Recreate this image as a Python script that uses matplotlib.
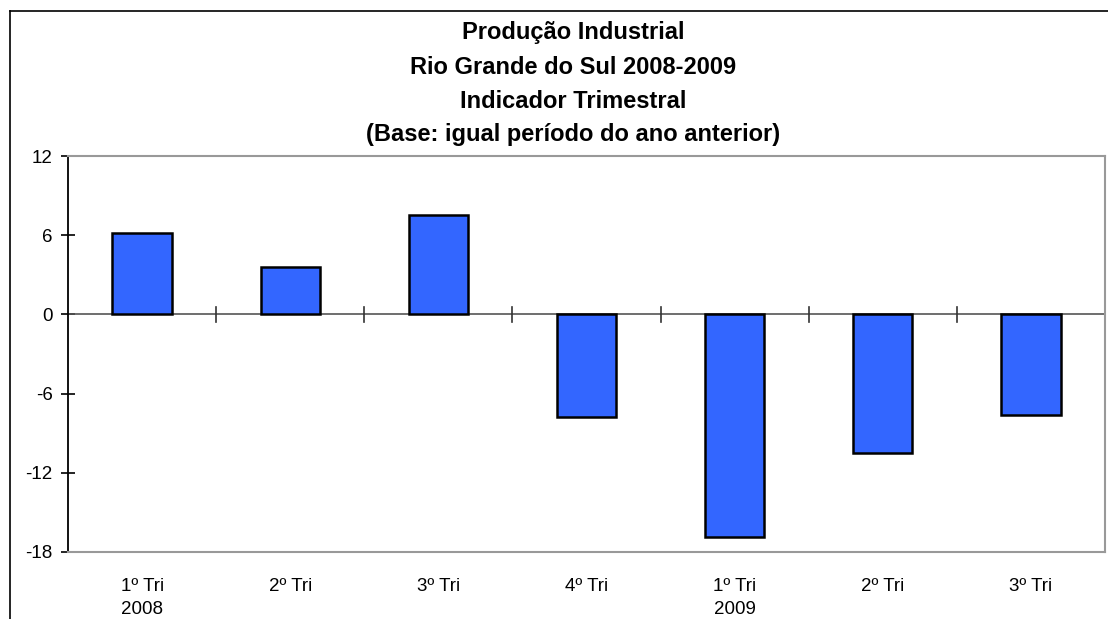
import matplotlib
matplotlib.use("Agg")
import matplotlib.pyplot as plt
from matplotlib.lines import Line2D

categories = ["1º Tri\n2008", "2º Tri", "3º Tri", "4º Tri", "1º Tri\n2009", "2º Tri", "3º Tri"]
values = [6.2, 3.6, 7.5, -7.8, -16.9, -10.5, -7.6]
yticks = [-18, -12, -6, 0, 6, 12]
title_lines = ["Produção Industrial", "Rio Grande do Sul 2008-2009",
               "Indicador Trimestral", "(Base: igual período do ano anterior)"]

plt.rcParams['font.family'] = ['Liberation Sans', 'DejaVu Sans']

W, H = 1108, 619
fig = plt.figure(figsize=(W / 100, H / 100), dpi=100)

# outer chart frame (left and top edges visible)
fig.add_artist(Line2D([10 / W, 10 / W], [0, 1 - 11 / H], color='black', lw=1.2, transform=fig.transFigure))
fig.add_artist(Line2D([10 / W, 1], [1 - 11 / H, 1 - 11 / H], color='black', lw=1.2, transform=fig.transFigure))

left, right, top, bottom = 68, 1105, 156, 552
ax = fig.add_axes([left / W, 1 - bottom / H, (right - left) / W, (bottom - top) / H])

n = len(values)
x = list(range(n))
ax.bar(x, values, width=0.4, color='#3366FF', edgecolor='black', linewidth=1.8, zorder=3)
ax.set_xlim(-0.5, n - 0.5)
ax.set_ylim(-18, 12)

# zero line with category separator ticks
ax.axhline(0, color='#555555', lw=1.2, zorder=2)
for i in range(1, n):
    ax.plot([i - 0.5, i - 0.5], [-0.55, 0.55], color='#333333', lw=1.2, zorder=2)

for side in ['top', 'right', 'bottom']:
    ax.spines[side].set_color('#999999')
    ax.spines[side].set_linewidth(1.5)
ax.spines['left'].set_color('black')
ax.spines['left'].set_linewidth(1.3)

ax.set_yticks(yticks)
ax.set_yticklabels([str(v) for v in yticks], fontsize=13.5)
ax.tick_params(axis='y', direction='inout', length=10, width=1.2, pad=6)
ax.set_xticks(x)
ax.set_xticklabels(categories, fontsize=13.5, linespacing=1.45)
ax.tick_params(axis='x', length=0, pad=19)

ys = [33, 68, 101, 135]
for line, yy in zip(title_lines, ys):
    fig.text(573 / W, 1 - yy / H, line, ha='center', va='center', fontsize=17, fontweight='bold')

fig.savefig("out.png", dpi=100)
